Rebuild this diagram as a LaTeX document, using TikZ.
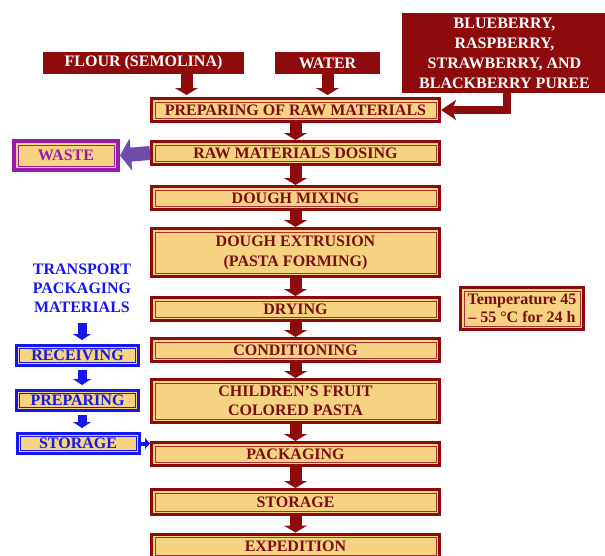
\documentclass[tikz,border=0pt]{standalone}
\usepackage{fontspec}
\setmainfont{Liberation Serif}
\usetikzlibrary{arrows.meta}
\definecolor{dred}{HTML}{8E0B0B}
\definecolor{innerred}{HTML}{A8302E}
\definecolor{darktext}{HTML}{7A0E0E}
\definecolor{pasta}{HTML}{F6D383}
\definecolor{wastepur}{HTML}{9A1CA6}
\definecolor{wastearr}{HTML}{6E4CAB}
\definecolor{packblue}{HTML}{1616EE}
\tikzset{
  stepbox/.style={draw=dred, line width=3pt, fill=pasta, text=darktext,
    minimum width=288pt, minimum height=23pt, align=center, inner sep=2pt},
  inbox/.style={fill=dred, text=white, minimum height=22pt, align=center},
  bluebox/.style={draw=packblue, line width=3pt, fill=pasta, text=packblue,
    minimum width=122pt, minimum height=20pt, inner sep=2pt},
  dnarrow/.style={draw=dred, line width=12pt, -{Triangle[width=23pt,length=7pt]}},
  bluearrow/.style={draw=packblue, line width=9pt, shorten >=4pt, shorten <=3pt,
    -{Triangle[width=18pt,length=6pt]}},
}
\begin{document}
\begin{tikzpicture}[x=1pt,y=-1pt,font=\fontsize{16}{19}\selectfont\bfseries]
\clip (0,0) rectangle (605,555);
% raw material inputs
\node[inbox, minimum width=201pt] (flour) at (143.5,63) {FLOUR (SEMOLINA)};
\node[inbox, minimum width=105pt] (water) at (327.5,63) {WATER};
\node[inbox, minimum width=205pt, minimum height=80pt,
  font=\fontsize{16}{20}\selectfont\bfseries] (berry) at (504.5,53)
  {BLUEBERRY,\\RASPBERRY,\\STRAWBERRY, AND\\BLACKBERRY PUREE};
% main line
\node[stepbox] (prep) at (295.5,110) {PREPARING OF RAW MATERIALS};
\node[stepbox] (dos) at (295.5,153) {RAW MATERIALS DOSING};
\node[stepbox] (mix) at (295.5,198) {DOUGH MIXING};
\node[stepbox, minimum height=48pt, font=\fontsize{16}{20}\selectfont\bfseries] (extr) at (295.5,252.5) {DOUGH EXTRUSION\\(PASTA FORMING)};
\node[stepbox] (dry) at (295.5,309) {DRYING};
\node[stepbox] (cond) at (295.5,350) {CONDITIONING};
\node[stepbox, minimum height=43pt] (fruit) at (295.5,401) {CHILDREN'S FRUIT\\COLORED PASTA};
\node[stepbox] (pack) at (295.5,454) {PACKAGING};
\node[stepbox, minimum height=25pt] (stor) at (295.5,502) {STORAGE};
\node[stepbox, minimum height=25pt] (exped) at (295.5,546.5) {EXPEDITION};
\node[stepbox, minimum width=123pt, minimum height=42pt,
  font=\fontsize{16}{18}\selectfont\bfseries] (temp) at (522,308.5) {Temperature 45\\-- 55 °C for 24 h};
% waste
\node[draw=wastepur, line width=4pt, fill=pasta, text=wastepur,
  minimum width=104pt, minimum height=29pt] (waste) at (66,155.5) {WASTE};
% packaging materials
\node[text=packblue, align=center] (trans) at (82,288) {TRANSPORT\\PACKAGING\\MATERIALS};
\node[bluebox] (recv) at (77.5,355.5) {RECEIVING};
\node[bluebox] (prep2) at (77.5,400.5) {PREPARING};
\node[bluebox] (storL) at (78,443.5) {STORAGE};
% inner lines of the boxes
\foreach \n in {prep,dos,mix,extr,dry,cond,fruit,pack,stor,exped,temp}
  \draw[innerred, line width=0.9pt] ([shift={(5pt,-5pt)}]\n.north west) rectangle ([shift={(-5pt,5pt)}]\n.south east);
\foreach \n in {recv,prep2,storL}
  \draw[packblue, line width=0.8pt] ([shift={(4.5pt,-4.5pt)}]\n.north west) rectangle ([shift={(-4.5pt,4.5pt)}]\n.south east);
\draw[wastepur, line width=1pt] ([shift={(6pt,-6pt)}]waste.north west) rectangle ([shift={(-6pt,6pt)}]waste.south east);
% arrows
\draw[dnarrow, shorten >=2pt] ([xshift=43pt]flour.south) coordinate (fl) -- (fl |- prep.north);
\draw[dnarrow, shorten >=2pt] (water.south) -- (water.south |- prep.north);
\draw[dred, line width=8pt, line join=miter, -{Stealth[width=20pt,length=15pt,inset=4pt]}]
  ([xshift=2.5pt]berry.south) |- (prep.east);
\foreach \a/\b in {prep/dos,dos/mix,mix/extr,extr/dry,dry/cond,cond/fruit,fruit/pack,pack/stor,stor/exped}
  \draw[dnarrow] (\a.south) -- (\b.north);
\draw[wastearr, line width=14pt, -{Triangle[width=32pt,length=11pt]}] (dos.west) -- (waste.east);
\draw[bluearrow, shorten <=7pt] (trans.south) -- (trans.south |- recv.north);
\draw[bluearrow] (recv.south -| trans) -- (prep2.north -| trans);
\draw[bluearrow] (prep2.south -| trans) -- (storL.north -| trans);
\draw[packblue, line width=4pt, -{Triangle[width=11pt,length=5pt]}] (storL.east) -- (storL.east -| pack.west);
\end{tikzpicture}
\end{document}
